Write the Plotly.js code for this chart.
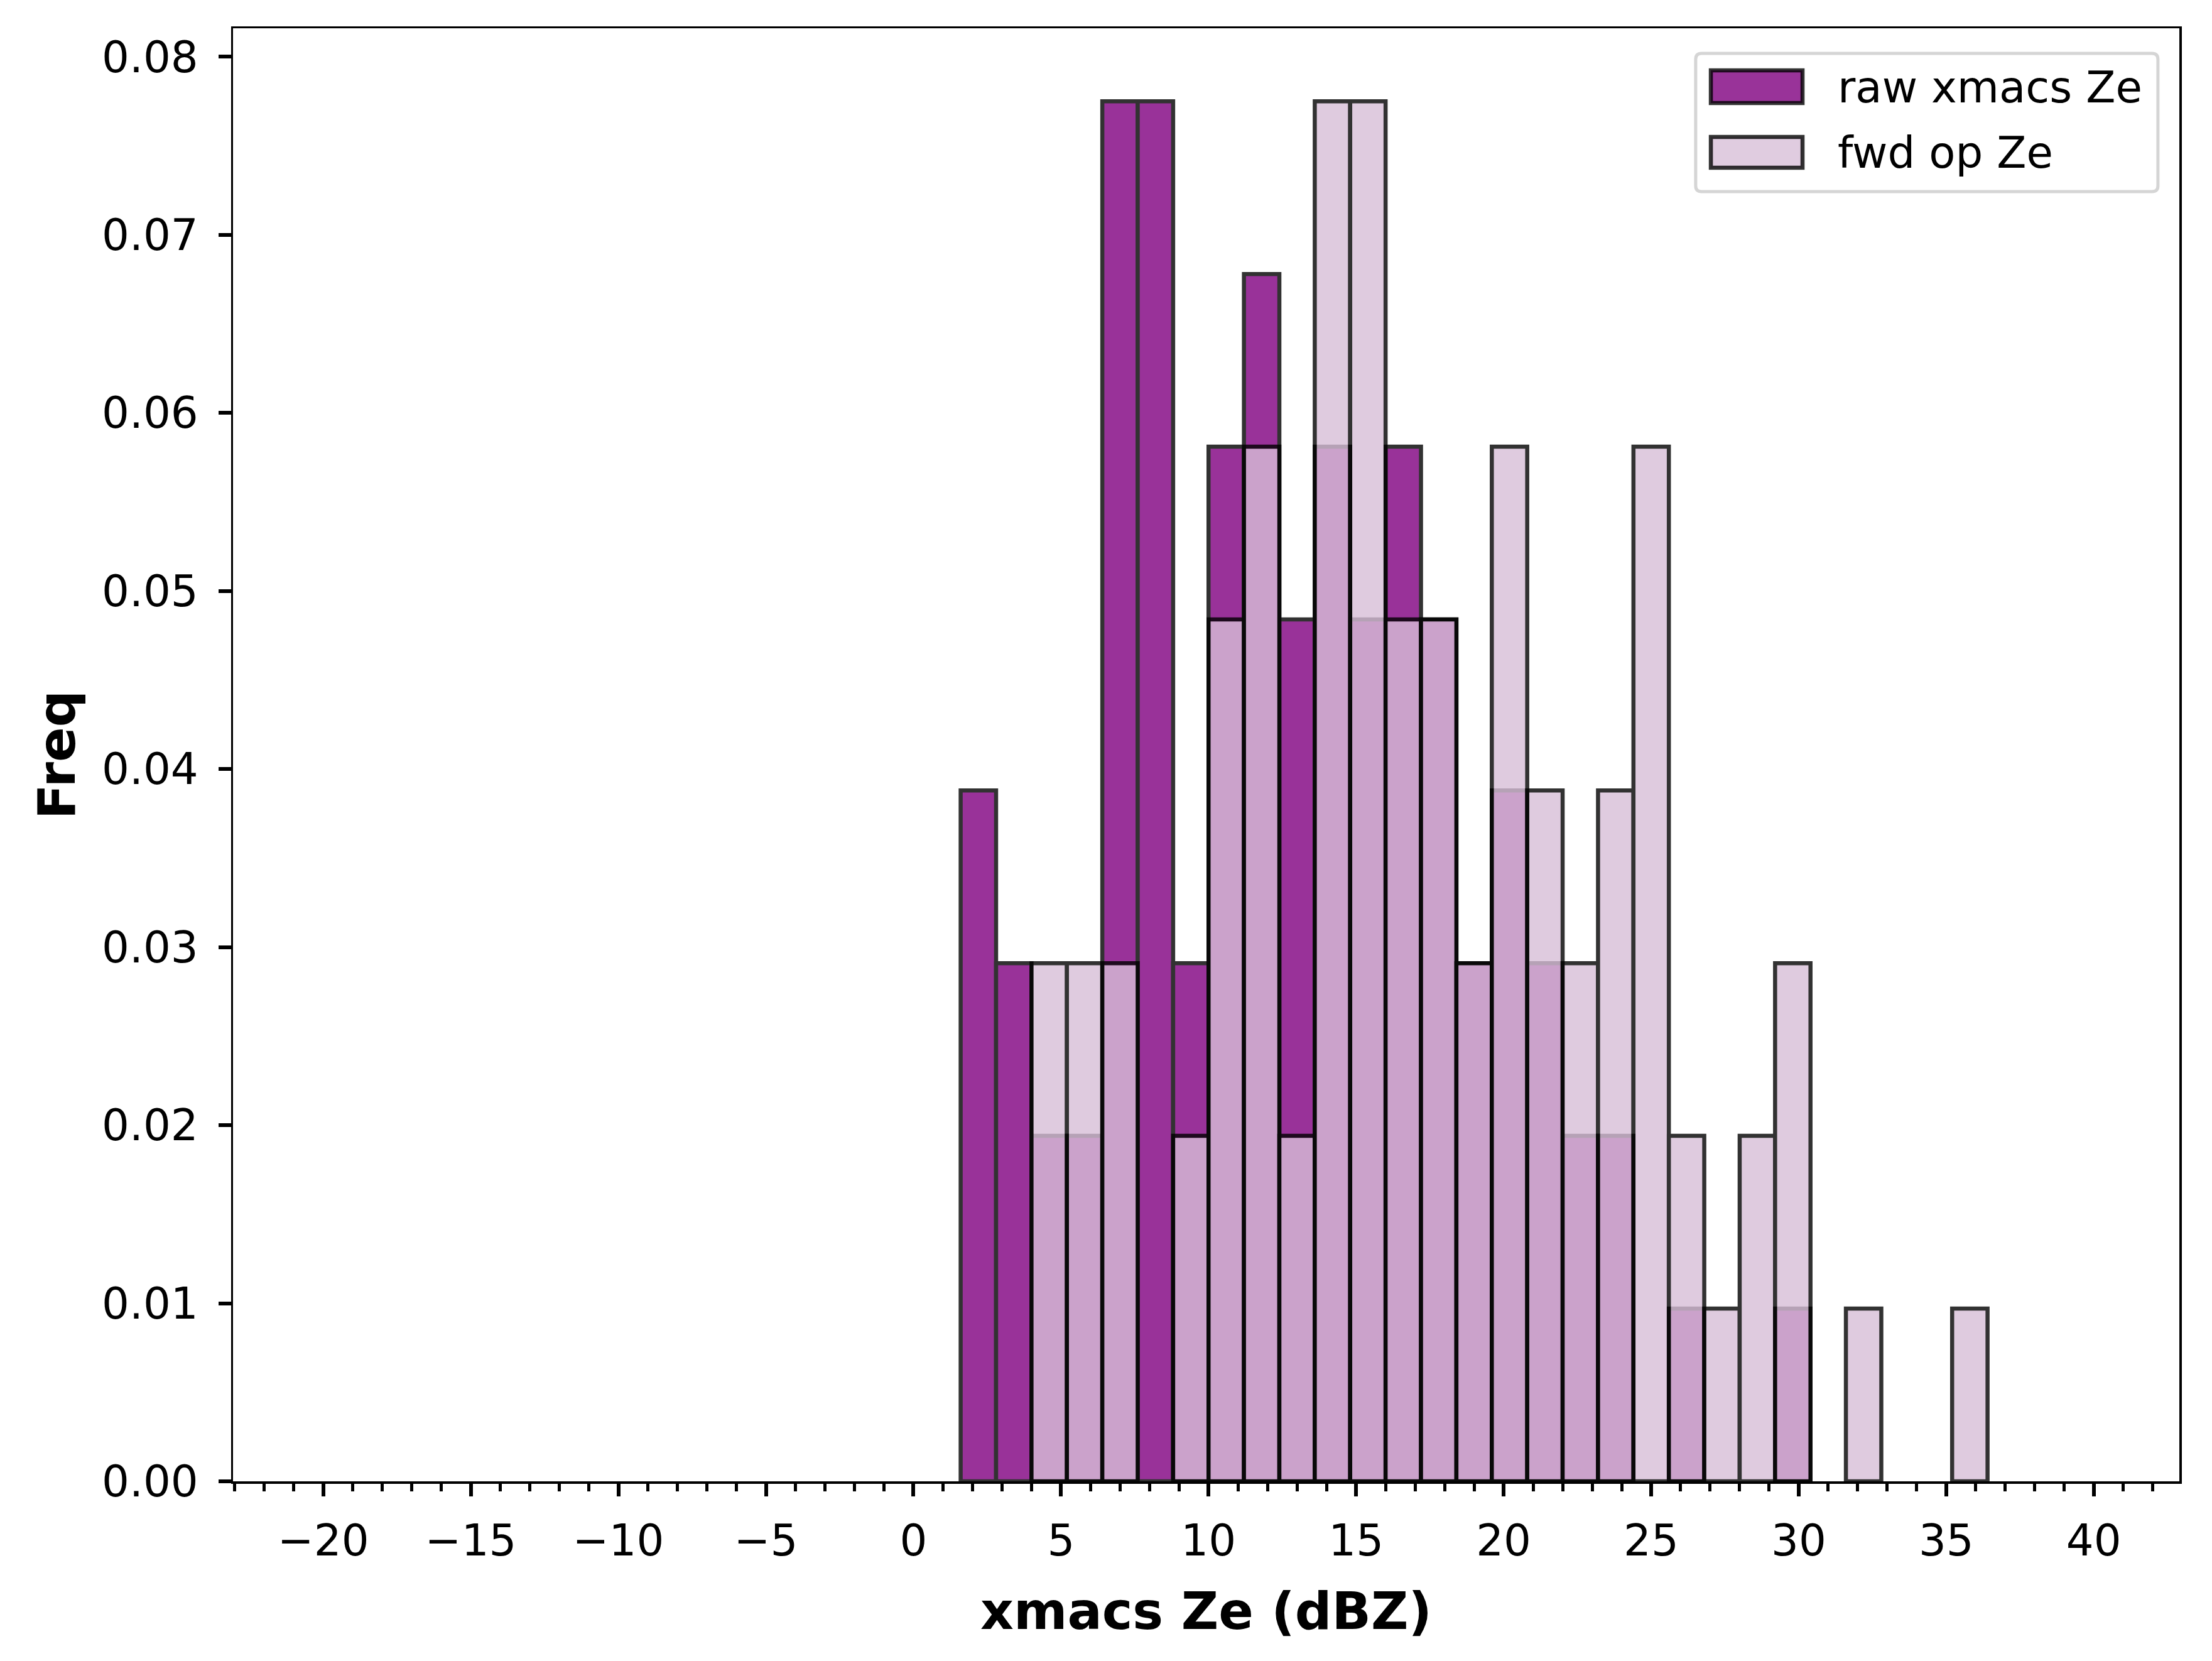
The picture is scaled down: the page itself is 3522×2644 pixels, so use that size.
<!DOCTYPE html>
<html>
<head>
<meta charset="utf-8">
<script src="https://cdn.plot.ly/plotly-3.0.1.min.js"></script>
<style>
  html, body { margin: 0; padding: 0; background: #fff; }
  #chart { width: 3522px; height: 2644px; }
</style>
</head>
<body>
<div id="chart"></div>
<script>
'use strict';

// bin centres (dBZ), bins are 1.2 dBZ wide
const binCenters = [2.2, 3.4, 4.6, 5.8, 7.0, 8.2, 9.4, 10.6, 11.8, 13.0,
                    14.2, 15.4, 16.6, 17.8, 19.0, 20.2, 21.4, 22.6, 23.8, 25.0,
                    26.2, 27.4, 28.6, 29.8, 31.0, 32.2, 33.4, 34.6, 35.8];
const BIN_WIDTH = 1.2;

const rawFreq = [0.0388, 0.0291, 0.0194, 0.0194, 0.0775, 0.0775, 0.0291, 0.0581, 0.0678, 0.0484,
                 0.0581, 0.0484, 0.0581, 0.0484, 0.0291, 0.0388, 0.0291, 0.0194, 0.0194, 0,
                 0.0097, 0, 0, 0.0097, 0, 0, 0, 0, 0];

const fwdFreq = [0, 0, 0.0291, 0.0291, 0.0291, 0, 0.0194, 0.0484, 0.0581, 0.0194,
                 0.0775, 0.0775, 0.0484, 0.0484, 0.0291, 0.0581, 0.0388, 0.0291, 0.0388, 0.0581,
                 0.0194, 0.0097, 0.0194, 0.0291, 0, 0.0097, 0, 0, 0.0097];

const seriesNames = ['raw xmacs Ze', 'fwd op Ze'];
const seriesColors = ['#800080', '#d8bfd8'];

const FONT = 'DejaVu Sans, Liberation Sans, sans-serif';
const EDGE = 'rgba(0,0,0,0.8)';
const EDGE_WIDTH = 6.5;

const data = seriesNames.map(function(name, i) {
    const y = i === 0 ? rawFreq : fwdFreq;
    return {
        type: 'bar',
        name: name,
        x: binCenters,
        y: y,
        width: BIN_WIDTH,
        opacity: 0.8,
        marker: {
            color: seriesColors[i],
            // empty bins: no outline lying on the axis
            line: { color: '#000000', width: y.map(function(v) { return v > 0 ? EDGE_WIDTH : 0; }) }
        }
    };
});

// matplotlib-like legend: big swatches + labels in a light rounded frame
function fade(hex) {
    const r = parseInt(hex.slice(1, 3), 16), g = parseInt(hex.slice(3, 5), 16), b = parseInt(hex.slice(5, 7), 16);
    return 'rgba(' + r + ',' + g + ',' + b + ',0.8)';
}

const legendShapes = [
    { type: 'path', xref: 'paper', yref: 'paper',
      path: 'M 0.7545,0.9827 L 0.9860,0.9827 Q 0.9890,0.9827 0.9890,0.9787 L 0.9890,0.8916 Q 0.9890,0.8876 0.9860,0.8876 L 0.7545,0.8876 Q 0.7515,0.8876 0.7515,0.8916 L 0.7515,0.9787 Q 0.7515,0.9827 0.7545,0.9827 Z',
      fillcolor: 'rgba(255,255,255,0.8)', line: { color: '#d5d5d5', width: 5 } },
    { type: 'rect', xref: 'paper', yref: 'paper', x0: 0.7593, x1: 0.8064, y0: 0.9485, y1: 0.9710,
      fillcolor: fade(seriesColors[0]), line: { color: EDGE, width: EDGE_WIDTH } },
    { type: 'rect', xref: 'paper', yref: 'paper', x0: 0.7593, x1: 0.8064, y0: 0.9040, y1: 0.9252,
      fillcolor: fade(seriesColors[1]), line: { color: EDGE, width: EDGE_WIDTH } }
];

const legendLabels = seriesNames.map(function(name, i) {
    return {
        xref: 'paper', yref: 'paper',
        x: 0.8238, y: i === 0 ? 0.9594 : 0.9144,
        xanchor: 'left', yanchor: 'middle',
        text: name, showarrow: false,
        font: { family: FONT, size: 69, color: '#000000' }
    };
});

const layout = {
    width: 3522,
    height: 2644,
    margin: { l: 371, r: 52, t: 45, b: 286 },
    paper_bgcolor: '#ffffff',
    plot_bgcolor: '#ffffff',
    barmode: 'overlay',
    font: { family: FONT, size: 69, color: '#000000' },
    showlegend: false,
    shapes: legendShapes,
    annotations: legendLabels,
    xaxis: {
        range: [-23.06, 42.9],
        tick0: 0,
        dtick: 5,
        ticks: 'outside',
        ticklen: 20,
        tickwidth: 6,
        tickcolor: '#000000',
        ticklabelstandoff: 12,
        minor: { dtick: 1, ticks: 'outside', ticklen: 12, tickwidth: 5, tickcolor: '#000000' },
        showgrid: false,
        zeroline: false,
        showline: true,
        linecolor: '#000000',
        linewidth: 3.5,
        mirror: true,
        tickfont: { family: FONT, size: 69 },
        title: { text: '<b>xmacs Ze (dBZ)</b>', font: { family: FONT, size: 82 }, standoff: 45 }
    },
    yaxis: {
        range: [0, 0.0816],
        tick0: 0,
        dtick: 0.01,
        tickformat: '.2f',
        ticks: 'outside',
        ticklen: 20,
        tickwidth: 6,
        tickcolor: '#000000',
        ticklabelstandoff: 18,
        showgrid: false,
        zeroline: false,
        showline: true,
        linecolor: '#000000',
        linewidth: 3.5,
        mirror: true,
        tickfont: { family: FONT, size: 69 },
        title: { text: '<b>Freq</b>', font: { family: FONT, size: 82 }, standoff: 16 }
    }
};

Plotly.newPlot('chart', data, layout, { displayModeBar: false, staticPlot: true });
</script>
</body>
</html>
